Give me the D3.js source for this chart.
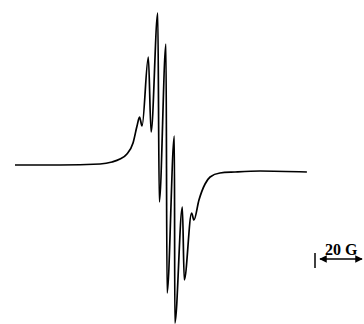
<!DOCTYPE html>
<html>
<head>
<meta charset="utf-8">
<script src="https://cdn.jsdelivr.net/npm/d3@7"></script>
<style>
  body { margin: 0; background: #fff; }
  svg { display: block; }
</style>
</head>
<body>
<svg id="chart" width="364" height="324"></svg>
<script>
// magnetic field (G) and derivative signal (arb. units)
const fieldG = [0, 21.4, 40.5, 46.2, 50, 53.3, 56.2, 58.1, 59.3, 60.5, 63.5, 64.8, 68, 68.7,
  71.9, 72.4, 75.9, 76.1, 79.7, 80.6, 84.1, 85.2, 87.6, 90.5, 92.9, 97.6, 104.8, 116.7, 139];
const signal = [3, 3, 4, 6, 9, 14, 25, 42, 51, 42, 111, 36, 155, -34,
  124, -125, 32, -155, -39, -112, -45, -52, -32, -16, -9, -5, -4, -3, -4];
const scaleBarG = 20;
const scaleLabel = "20 G";

const W = 364, H = 324;
const svg = d3.select('#chart');

let xScale = d3.scaleLinear().domain([0, 139]).range([15, 15 + 139 * 2.1]);
let yScale = d3.scaleLinear().domain([-160, 160]).range([328, 8]);

const pts = fieldG.map((g, i) => [g, signal[i]]);
const line = d3.line()
  .x(d => xScale(d[0]))
  .y(d => yScale(d[1]))
  .curve(d3.curveMonotoneX);

svg.append('path')
  .datum(pts)
  .attr('d', line)
  .attr('fill', 'none')
  .attr('stroke', '#000')
  .attr('stroke-width', 1.7)
  .attr('stroke-linejoin', 'round');

// scale bar
let defs = svg.append('defs');
defs.append('marker')
  .attr('id', 'ah')
  .attr('viewBox', '0 0 10 10')
  .attr('refX', 9).attr('refY', 5)
  .attr('markerWidth', 6).attr('markerHeight', 5)
  .attr('orient', 'auto-start-reverse')
  .append('path').attr('d', 'M0,0L10,5L0,10Z').attr('fill', '#000');

const barX0 = 320;
const barLen = xScale(scaleBarG) - xScale(0);
svg.append('line')
  .attr('x1', barX0).attr('x2', barX0 + barLen)
  .attr('y1', 259).attr('y2', 259)
  .attr('stroke', '#000').attr('stroke-width', 1.5)
  .attr('marker-start', 'url(#ah)')
  .attr('marker-end', 'url(#ah)');
svg.append('line')
  .attr('x1', 315).attr('x2', 315)
  .attr('y1', 253).attr('y2', 268)
  .attr('stroke', '#000').attr('stroke-width', 1.5);
svg.append('text')
  .attr('x', 325).attr('y', 255)
  .attr('font-family', 'Liberation Serif, serif')
  .attr('font-weight', 'bold')
  .attr('font-size', '16px')
  .text(scaleLabel);
</script>
</body>
</html>
